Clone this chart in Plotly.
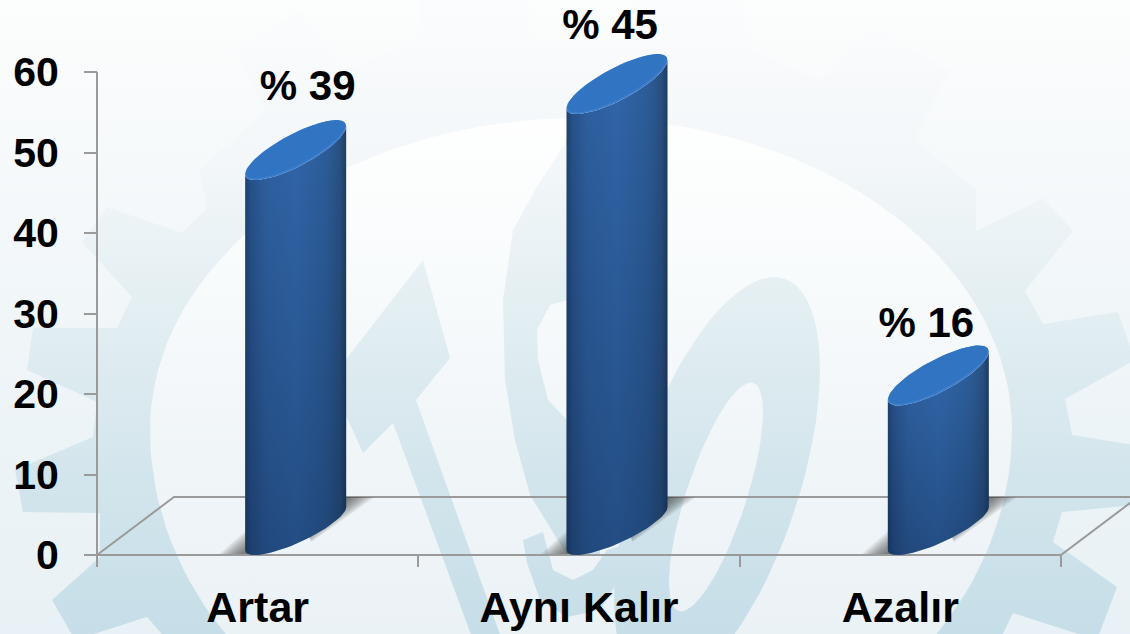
import math
import plotly.graph_objects as go

# ---- data ----
categories = ["Artar", "Aynı Kalır", "Azalır"]
values = [47.0, 55.2, 19.0]
value_labels = ["% 39", "% 45", "% 16"]
y_ticks = [0, 10, 20, 30, 40, 50, 60]

# ---- page geometry ----
W, H = 1130, 634
L, R, T, B = 97, 1061, 72, 555
XU = (R - L) / 3
YU = (B - T) / 60
FONT = "Liberation Sans"
GREY = "#9a9a9a"


def dx(px):
    return (px - L) / XU - 0.5


def dy(py):
    return (B - py) / YU


def xs(pts):
    return [dx(p[0]) for p in pts]


def ys(pts):
    return [dy(p[1]) for p in pts]


fig = go.Figure()


def poly(pts, grad=None, color=None):
    pts = list(pts) + [pts[0]]
    kw = dict(x=xs(pts), y=ys(pts), mode="lines", line=dict(width=0), fill="toself",
              hoverinfo="skip", showlegend=False, cliponaxis=False)
    if grad is not None:
        kw["fillgradient"] = grad
    else:
        kw["fillcolor"] = color
    fig.add_trace(go.Scatter(**kw))


def vgrad(stops, p0=0, p1=H):
    return dict(type="vertical", start=dy(p0), stop=dy(p1),
                colorscale=[[(i / (len(stops) - 1)), c] for i, c in enumerate(stops)])


def hgrad(stops, p0, p1):
    return dict(type="horizontal", start=dx(p0), stop=dx(p1), colorscale=stops)


# vertical colour maps: listed from the bottom of the page upwards
BG = vgrad(["#e8f1f5", "#edf4f7", "#f4f8fa", "#fcfdfd"], H, 0)
CIRC = vgrad(["#ebf2f6", "#f0f5f8", "#f8fbfc", "#ffffff"], H, 100)
WM = vgrad(["#c6dee8", "#d3e5ec", "#e2eef2", "#f3f7f9", "#fbfcfd"], H, 0)


def ellipse(cx, cy, a, b, ang, n=72):
    u = (math.cos(ang), math.sin(ang))
    v = (-math.sin(ang), math.cos(ang))
    return [(cx + a * math.cos(t) * u[0] + b * math.sin(t) * v[0],
             cy + a * math.cos(t) * u[1] + b * math.sin(t) * v[1])
            for t in [2 * math.pi * i / n for i in range(n)]]


def egg(cx, cy, a, b_up, b_dn, n=160):
    out = []
    for i in range(n):
        t = 2 * math.pi * i / n
        s = math.sin(t)
        out.append((cx + a * math.cos(t), cy + (b_dn if s > 0 else b_up) * s))
    return out


# background and watermark
poly([(0, 0), (W, 0), (W, H), (0, H)], grad=BG)
gear = [
    # top, pale
    (200, 170), (265, 110), (235, 50), (300, 10), (345, 70), (420, 40), (420, -10), (530, -10), (530, 40),
    (620, 40), (640, -10), (740, -10), (750, 50), (820, 80), (870, 30), (950, 70), (915, 140), (976, 190),
    (976, 231), (1043, 198), (1073, 231), (1025, 291),
    # right side going down
    (1043, 324), (1118, 312), (1135, 360), (1065, 399), (1072, 435), (1135, 445), (1135, 505), (1062, 512),
    (1053, 542), (1117, 587), (1097, 640), (1013, 613), (1000, 640),
    # bottom
    (167, 640),
    # left side going up
    (147, 617), (75, 640), (52, 600), (100, 557), (100, 513), (23, 512), (15, 470), (93, 437), (97, 402),
    (27, 370), (33, 328), (117, 328), (132, 297), (82, 242), (107, 207), (182, 233), (207, 208),
]
poly(gear, grad=WM)
poly(egg(581, 430, 431, 312, 361), grad=CIRC)

poly([(423, 260), (450, 358), (416, 400), (502, 640), (473, 640), (393, 423), (363, 453), (330, 380)], grad=WM)
poly([(567, 140), (535, 190), (513, 230), (503, 300), (505, 380), (515, 440), (530, 495), (567, 555), (600, 555),
      (600, 450), (567, 420), (548, 400), (538, 360), (537, 330), (550, 305), (567, 300)], grad=WM)
poly([(523, 540), (543, 532), (553, 570), (573, 580), (593, 570), (607, 550), (640, 540),
      (623, 573), (600, 610), (567, 617), (540, 600), (527, 563)], grad=WM)
ang0 = math.atan2(690 - 278, 650 - 785)
poly(ellipse(717, 484, 216, 82, ang0), grad=WM)
poly(ellipse(716, 497, 120, 30, ang0), grad=CIRC)

# axis lines and floor of the 3-D chart
DEPTH_X, DEPTH_Y = 77, 58
floor = [(L, T), (L, B), (R, B), (R + DEPTH_X, B - DEPTH_Y), (L + DEPTH_X, B - DEPTH_Y), (L, B)]
fig.add_trace(go.Scatter(x=xs(floor), y=ys(floor), mode="lines", line=dict(color=GREY, width=2),
                         hoverinfo="skip", showlegend=False, cliponaxis=False))

# slanted cylinders
HALF = 50.5
BASE_CY = 528.5
LABEL_LIFT = [61, 56, 49]
LABEL_DX = [12, -7, -12]
BODY = [[0, "#1e4270"], [0.06, "#27528a"], [0.2, "#2e5f9e"], [0.5, "#3065a8"], [0.8, "#2c5c98"],
        [0.94, "#27507f"], [1, "#1d3c63"]]
LAYER = "rgba(60,60,60,0.075)"
for cat_i, (v, lab, lift, ldx) in enumerate(zip(values, value_labels, LABEL_LIFT, LABEL_DX)):
    cx = L + (cat_i + 0.5) * XU + DEPTH_X / 2 - 0.5
    x0, x1 = cx - HALF, cx + HALF
    top_cy = BASE_CY - v * YU
    ts = [math.pi * i / 40 for i in range(41)]

    # soft shadows built from thin overlapping layers
    for k in range(2, 27, 2):
        poly([(x0 - k, B - 1), (x0 + 5, B - 1 - k * 1.05), (x0 + 5, B - 1)], color=LAYER)
        poly([(x1 - 6, B - 58), (x1 + k * 1.1, B - 58), (x1 - 40 + k * 0.2, B - 22 + k * 0.35), (x1 - 40, B - 30)],
             color=LAYER)

    # body: left edge → bottom arc → right edge → top arc
    base_arc = [(cx - HALF * math.cos(t), BASE_CY + 21.5 * math.cos(t) + 15.5 * math.sin(t)) for t in ts]
    top_arc = [(cx + HALF * math.cos(t), top_cy - 24 * math.cos(t) + 18 * math.sin(t)) for t in ts]
    body = base_arc + top_arc
    poly(body, grad=hgrad(BODY, x0, x1))
    poly(body, grad=dict(type="vertical", start=dy(B), stop=dy(top_cy),
                         colorscale=[[0, "rgba(5,20,45,0.3)"], [1, "rgba(5,20,45,0)"]]))

    # top face
    poly([(cx + HALF * math.cos(t), top_cy - 24 * math.cos(t) + 18 * math.sin(t))
          for t in [2 * math.pi * i / 80 for i in range(80)]], color="#3a7dcd")
    poly([(cx + (HALF - 1) * math.cos(t), top_cy - 1 - 24 * math.cos(t) + 16.5 * math.sin(t))
          for t in [2 * math.pi * i / 80 for i in range(80)]], color="#3074c2")

    # value label
    fig.add_trace(go.Scatter(x=[dx(cx + ldx)], y=[dy(top_cy - lift)], mode="text", text=[lab],
                             textposition="middle center",
                             textfont=dict(family=FONT, size=42, color="#000000", weight="bold"),
                             hoverinfo="skip", showlegend=False, cliponaxis=False))

fig.update_layout(
    width=W, height=H, autosize=False,
    margin=dict(l=0, r=0, t=0, b=0, pad=0),
    paper_bgcolor="#f4f8fa", plot_bgcolor="rgba(0,0,0,0)",
    showlegend=False,
    xaxis=dict(range=[dx(0), dx(W)], anchor="free", position=(H - B) / H, automargin=False,
               tickvals=[0, 1, 2], ticktext=categories,
               showgrid=False, zeroline=False, showline=False,
               ticks="", ticklabelstandoff=23,
               tickfont=dict(family=FONT, size=43, color="#000000", weight="bold"),
               minor=dict(tick0=0.5, dtick=1, ticks="outside", ticklen=11, tickwidth=2,
                          tickcolor=GREY, showgrid=False)),
    yaxis=dict(range=[dy(H), dy(0)], anchor="free", position=L / W, automargin=False,
               tickvals=y_ticks, ticktext=[str(t) for t in y_ticks],
               showgrid=False, zeroline=False, showline=False,
               ticks="outside", ticklen=13, tickwidth=2, tickcolor=GREY, ticklabelstandoff=17,
               tickfont=dict(family=FONT, size=41, color="#000000", weight="bold")),
)
fig.write_html("out.html", config=dict(displayModeBar=False),
               post_script="document.body.style.margin='0';document.documentElement.style.overflow='hidden';")
